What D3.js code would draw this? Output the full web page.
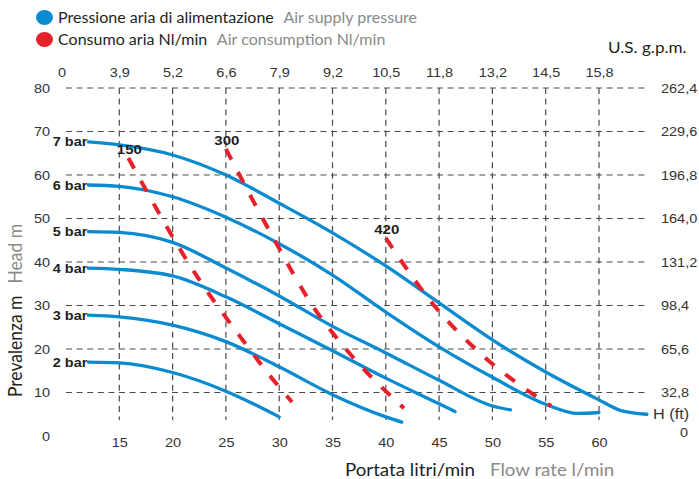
<!DOCTYPE html>
<html>
<head>
<meta charset="utf-8">
<script src="https://cdn.jsdelivr.net/npm/d3@7"></script>
<style>
  html, body { margin: 0; padding: 0; background: #fff; }
  svg { display: block; }
</style>
</head>
<body>
<svg id="chart" width="699" height="479"></svg>
<script>
// ---- data ---------------------------------------------------------------
const flowTicks = [15, 20, 25, 30, 35, 40, 45, 50, 55, 60];          // l/min
const gpmLabels = ["3,9", "5,2", "6,6", "7,9", "9,2", "10,5", "11,8", "13,2", "14,5", "15,8"];
const headTicks = [0, 10, 20, 30, 40, 50, 60, 70, 80];              // m
const feetLabels = ["32,8", "65,6", "98,4", "131,2", "164,0", "196,8", "229,6", "262,4"];

const pressureNames = ["2 bar", "3 bar", "4 bar", "5 bar", "6 bar", "7 bar"];
const flow2bar = [12.1, 15, 20, 25, 30];
const head2bar = [17.0, 16.8, 14.6, 10.3, 4.4];
const flow3bar = [12.1, 15, 20, 25, 30, 35, 40, 41.5];
const head3bar = [27.8, 27.4, 25.5, 21.7, 15.9, 9.5, 4.4, 3.2];
const flow4bar = [12.1, 15, 20, 25, 30, 35, 40, 45, 46.5];
const head4bar = [38.6, 38.3, 36.8, 32.0, 25.8, 19.6, 13.3, 7.4, 5.6];
const flow5bar = [12.1, 15, 20, 25, 30, 35, 40, 45, 50, 51.7];
const head5bar = [47.0, 46.8, 44.5, 38.6, 32.2, 25.2, 19.1, 12.8, 6.9, 6.0];
const flow6bar = [12.1, 15, 20, 25, 30, 35, 40, 45, 50, 55, 58, 60];
const head6bar = [57.7, 57.4, 55.0, 50.3, 44.2, 37.0, 28.5, 20.5, 13.5, 7.3, 5.2, 5.4];
const flow7bar = [12.1, 15, 20, 25, 30, 35, 40, 45, 50, 55, 60, 62, 64.5];
const head7bar = [67.6, 66.9, 64.6, 60.0, 53.5, 46.7, 39.1, 30.6, 22.1, 14.7, 8.3, 5.9, 5.0];

const airNames = ["150", "300", "420"];                               // Nl/min
const flowAir150 = [15.85, 22.4, 26.35, 29.45, 31.2];
const headAir150 = [63.9, 36.3, 22.8, 12.9, 7.8];
const flowAir300 = [25.0, 29.3, 33.2, 36.5, 41.7];
const headAir300 = [66.0, 46.2, 29.7, 19.3, 6.4];
const flowAir420 = [40.0, 44.5, 49.05, 55.5];
const headAir420 = [45.5, 30.1, 18.6, 6.9];

// ---- setup --------------------------------------------------------------
const pressureSeries = [
  [flow2bar, head2bar], [flow3bar, head3bar], [flow4bar, head4bar],
  [flow5bar, head5bar], [flow6bar, head6bar], [flow7bar, head7bar]
].map(([f, h], i) => ({ name: pressureNames[i], pts: f.map((v, j) => [v, h[j]]) }));

const airSeries = [
  [flowAir150, headAir150], [flowAir300, headAir300], [flowAir420, headAir420]
].map(([f, h], i) => ({ name: airNames[i], pts: f.map((v, j) => [v, h[j]]) }));

const BLUE = "#0a8bd0", RED = "#e8202a", GRID = "#4a4a4a";
const DARK = "#231f20", GREY = "#8a8a8a";
const SX = 1.16;                       // tick glyphs are drawn slightly wide
const SX_TITLE = 1.07;                 // same for the title face
const tickFont = "'Liberation Sans', Arial, Helvetica, sans-serif";
const titleFont = "Lato, 'Open Sans', sans-serif";

const svg = d3.select("#chart");
const x = d3.scaleLinear().domain([10, 65]).range([66, 652.3]);
const y = d3.scaleLinear().domain([0, 80]).range([436, 88]);
const gridRight = 648, gridBottom = 420;

// ---- grid ---------------------------------------------------------------
const grid = svg.append("g")
  .attr("stroke", GRID).attr("stroke-width", 1.2).attr("stroke-dasharray", "6,4.6");
grid.selectAll("line.h").data(headTicks.filter(d => d > 0)).join("line")
  .attr("class", "h")
  .attr("x1", x(10)).attr("x2", gridRight)
  .attr("y1", d => y(d)).attr("y2", d => y(d));
grid.selectAll("line.v").data(flowTicks).join("line")
  .attr("class", "v")
  .attr("x1", d => x(d)).attr("x2", d => x(d))
  .attr("y1", y(80)).attr("y2", gridBottom);

// ---- axes (labels only) ---------------------------------------------------
function styleAxis(g) {
  g.attr("font-family", tickFont).attr("font-size", 12.5);
  g.select(".domain").remove();
  g.selectAll("text").attr("fill", "#333").attr("transform", `scale(${SX},1)`);
}
svg.append("g").attr("transform", `translate(0,${y(0)})`)
  .call(d3.axisBottom(x).tickValues(flowTicks).tickSize(0).tickPadding(2).tickFormat(d3.format("d")))
  .call(styleAxis);
svg.append("g").attr("transform", `translate(0,${y(80)})`)
  .call(d3.axisTop(x).tickValues(flowTicks).tickSize(0).tickPadding(11).tickFormat((d, i) => gpmLabels[i]))
  .call(styleAxis);
svg.append("g").attr("transform", `translate(${x(10)},0)`)
  .call(d3.axisLeft(y).tickValues(headTicks).tickSize(0).tickPadding(16 / SX).tickFormat(d3.format("d")))
  .call(styleAxis);
svg.append("g").attr("transform", `translate(${gridRight},0)`)
  .call(d3.axisRight(y).tickValues(headTicks.filter(d => d > 0)).tickSize(0).tickPadding(13 / SX)
    .tickFormat((d, i) => feetLabels[i]))
  .call(styleAxis);

function stretchedText(px, py, str, opts = {}) {
  return svg.append("text")
    .attr("transform", `translate(${px},${py}) scale(${opts.sx || SX},1)`)
    .attr("font-family", opts.font || tickFont)
    .attr("font-size", opts.size || 12.5)
    .attr("font-weight", opts.weight || "normal")
    .attr("text-anchor", opts.anchor || "start")
    .attr("fill", opts.fill || "#333")
    .text(str);
}
// flow-axis origin in U.S. g.p.m. and the feet scale ends
stretchedText(x(10) - 4, 76.5, "0", { anchor: "middle" });
stretchedText(gridRight + 5, 419, "H (ft)", { size: 14 });
stretchedText(684, 437, "0", { anchor: "middle" });
stretchedText(608, 53, "U.S. g.p.m.", { font: titleFont, size: 16, fill: DARK, sx: SX_TITLE });

// ---- curves ---------------------------------------------------------------
const line = d3.line().x(d => x(d[0])).y(d => y(d[1])).curve(d3.curveMonotoneX);

svg.append("g").selectAll("path").data(pressureSeries).join("path")
  .attr("d", d => line(d.pts))
  .attr("fill", "none").attr("stroke", BLUE).attr("stroke-width", 3.3)
  .attr("stroke-linecap", "round");

svg.append("g").selectAll("path").data(airSeries).join("path")
  .attr("d", d => line(d.pts))
  .attr("fill", "none").attr("stroke", RED).attr("stroke-width", 4)
  .attr("stroke-dasharray", "12,14");

// curve labels
pressureSeries.forEach(s => {
  const [f, h] = s.pts[0];
  stretchedText(x(f) - 1, y(h) + 4.5, s.name, { size: 12.5, weight: "bold", anchor: "end", fill: DARK });
});
airSeries.forEach(s => {
  const [f, h] = s.pts[0];
  stretchedText(x(f) + 1, y(h) - 4, s.name, { size: 13, weight: "bold", anchor: "middle", fill: DARK });
});

// ---- legend ---------------------------------------------------------------
const legend = [
  { color: BLUE, it: "Pressione aria di alimentazione", en: "Air supply pressure", cy: 17.5 },
  { color: RED,  it: "Consumo aria Nl/min", en: "Air consumption Nl/min", cy: 39.5 }
];
legend.forEach(l => {
  svg.append("ellipse").attr("cx", 44.5).attr("cy", l.cy).attr("rx", 8.5).attr("ry", 7.6).attr("fill", l.color);
  const t = stretchedText(58, l.cy + 5, "", { font: titleFont, size: 15, fill: DARK, sx: SX_TITLE });
  t.append("tspan").text(l.it);
  t.append("tspan").attr("dx", 9).attr("fill", GREY).text(l.en);
});

// ---- axis titles ----------------------------------------------------------
const xt = stretchedText(345, 476, "", { font: titleFont, size: 17.5, fill: DARK, sx: SX_TITLE });
xt.append("tspan").text("Portata litri/min");
xt.append("tspan").attr("dx", 14).attr("fill", GREY).text("Flow rate l/min");

const yt = svg.append("text")
  .attr("transform", `translate(22,397) rotate(-90) scale(1,${SX_TITLE})`)
  .attr("font-family", titleFont).attr("font-size", 17.5).attr("fill", DARK);
yt.append("tspan").text("Prevalenza m");
yt.append("tspan").attr("dx", 12).attr("fill", GREY).text("Head m");
</script>
</body>
</html>
